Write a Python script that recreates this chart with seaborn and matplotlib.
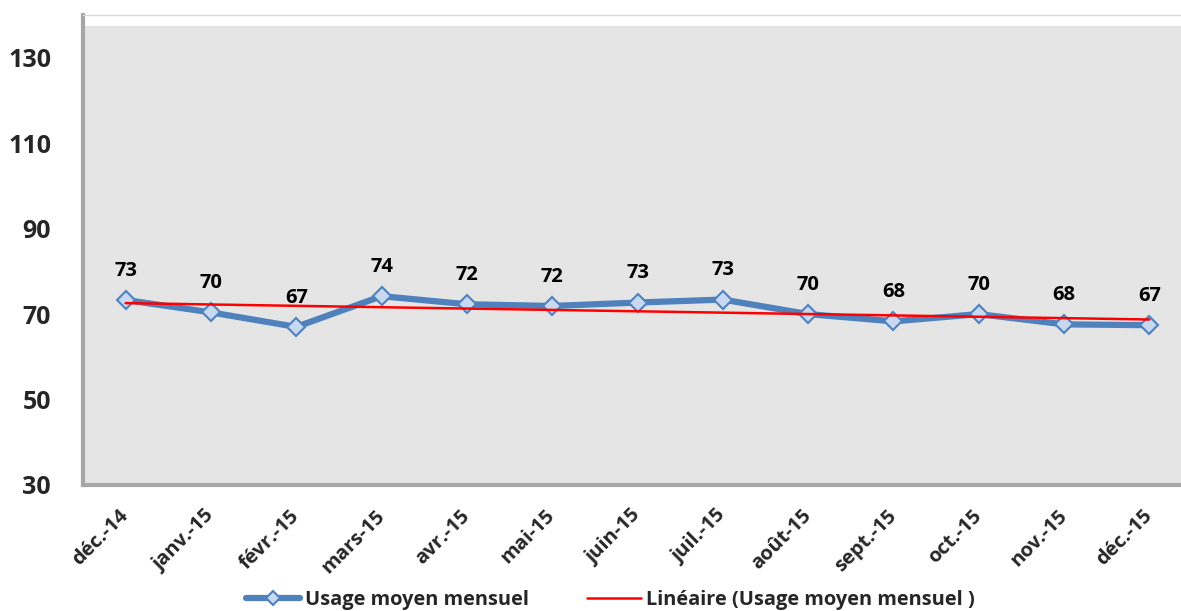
"""Usage moyen mensuel, déc. 2014 - déc. 2015, avec tendance linéaire."""

import matplotlib

matplotlib.use("Agg")
import matplotlib.pyplot as plt
import numpy as np
import pandas as pd
import seaborn as sns
from matplotlib.patches import Rectangle

# --- data ---
months = ["déc.-14", "janv.-15", "févr.-15", "mars-15", "avr.-15", "mai-15", "juin-15",
          "juil.-15", "août-15", "sept.-15", "oct.-15", "nov.-15", "déc.-15"]
usage = [73.3, 70.4, 67.0, 74.2, 72.3, 71.9, 72.7, 73.4, 70.0, 68.3, 70.0, 67.6, 67.4]
y_ticks = [30, 50, 70, 90, 110, 130]

series_label = "Usage moyen mensuel"
trend_label = "Linéaire (Usage moyen mensuel )"

BLUE = "#4f81bd"
MARKER_FACE = "#c6d9f1"
RED = "#ff0000"

sns.set_theme(style="white")
plt.rcParams["font.family"] = ["Open Sans", "DejaVu Sans"]
plt.rcParams["font.weight"] = "bold"

df = pd.DataFrame({"idx": np.arange(len(months)), "usage": usage})

W, H = 1181, 611
fig = plt.figure(figsize=(W / 100, H / 100), dpi=100)
ax = fig.add_axes([83 / W, 1 - 485 / H, (1192 - 83) / W, (485 - 15) / H])
ax.set_facecolor("#e5e5e5")

sns.lineplot(data=df, x="idx", y="usage", ax=ax, color=BLUE, linewidth=4.5,
             marker="D", markersize=9, markerfacecolor=MARKER_FACE,
             markeredgecolor=BLUE, markeredgewidth=1.5, label=series_label, zorder=3)
sns.regplot(data=df, x="idx", y="usage", ax=ax, scatter=False, ci=None, truncate=True,
            color=RED, line_kws={"linewidth": 1.8, "zorder": 4}, label=trend_label)

for i, v in enumerate(usage):
    ax.annotate(f"{v:.0f}", (i, v), xytext=(0, 21), textcoords="offset points",
                ha="center", va="center", fontsize=14.5, fontweight="bold", color="black")

ax.set_xlim(-0.5, len(months) - 0.5)
ax.set_ylim(30, 140)
ax.set_yticks(y_ticks)
ax.set_yticklabels([str(t) for t in y_ticks], fontsize=18, fontweight="bold")
ax.set_xticks(range(len(months)))
ax.set_xticklabels(months, rotation=45, ha="right", va="center", rotation_mode="anchor",
                   fontsize=14.5, fontweight="bold")
ax.tick_params(axis="y", length=0, pad=23)
ax.tick_params(axis="x", length=0, pad=20)
ax.set_xlabel("")
ax.set_ylabel("")

# bevelled plot-area frame
ax.spines["right"].set_visible(False)
ax.spines["left"].set_color("#a6a6a6")
ax.spines["left"].set_linewidth(3)
ax.spines["bottom"].set_color("#a6a6a6")
ax.spines["bottom"].set_linewidth(3)
ax.spines["top"].set_color("#d9d9d9")
ax.spines["top"].set_linewidth(1)
ax.add_patch(Rectangle((0, 0.977), 1, 0.023, transform=ax.transAxes,
                       facecolor="white", edgecolor="none", zorder=1))

ax.legend(loc="center", bbox_to_anchor=(610 / W, 1 - 600 / H), bbox_transform=fig.transFigure,
          ncol=2, frameon=False, prop={"size": 14.4, "weight": "bold"},
          handlelength=2.7, columnspacing=2.9, handletextpad=0.25, markerscale=0.8)

fig.savefig("out.png", dpi=100)
